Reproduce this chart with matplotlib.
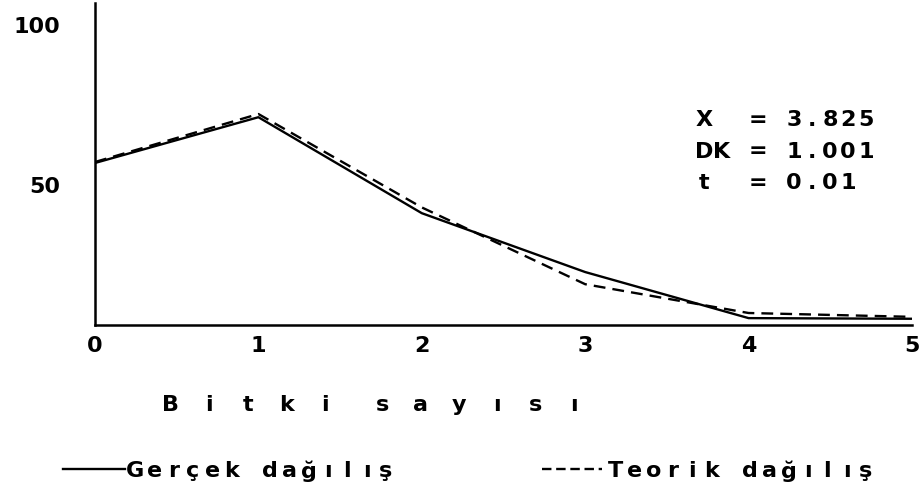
import matplotlib
matplotlib.use('Agg')
import matplotlib.pyplot as plt
from matplotlib.lines import Line2D

# Bitki sayısı dağılımı (gerçek ve teorik)
bitki_sayisi = [0, 1, 2, 3, 4, 5]
gercek = [56.9, 71.2, 41.2, 22.8, 8.4, 8.2]
teorik = [57.2, 72.2, 43.0, 19.0, 10.0, 8.8]
y_ticks = [50, 100]

stat_lines = ["X  = 3.825", "DK = 1.001", "t  = 0.01"]
xlabel_text = "B i t k i  s a y ı s ı"
legend_labels = ["Gerçek dağılış", "Teorik dağılış"]

W, H = 923, 497
FONT = dict(family='DejaVu Sans', weight='bold', size=16, color='black')


def spaced_text(fig, x, y, s, pitch):
    # daktilo gibi sabit aralıklı yazı (piksel koordinatları)
    for i, ch in enumerate(s):
        if ch != ' ':
            fig.text((x + i * pitch) / W, 1 - y / H, ch, ha='center', va='center', **FONT)


fig = plt.figure(figsize=(W / 100, H / 100), dpi=100)
ax = fig.add_axes([95 / W, 1 - 325 / H, (912 - 95) / W, (325 - 3) / H])

ax.plot(bitki_sayisi, gercek, color='black', lw=1.7)
ax.plot(bitki_sayisi, teorik, color='black', lw=1.7, dashes=(5, 3))

ax.set_xlim(0, 5)
ax.set_ylim(6.25, 106.9)
ax.set_xticks(bitki_sayisi)
ax.set_yticks(y_ticks)
ax.tick_params(axis='x', length=0, pad=8)
ax.tick_params(axis='y', length=0, pad=25)
for lab in ax.get_xticklabels() + ax.get_yticklabels():
    lab.set_fontfamily(FONT['family'])
    lab.set_fontweight(FONT['weight'])
    lab.set_fontsize(FONT['size'])

for side in ['top', 'right']:
    ax.spines[side].set_visible(False)
for side in ['left', 'bottom']:
    ax.spines[side].set_linewidth(1.8)

# istatistikler
for k, line in enumerate(stat_lines):
    spaced_text(fig, 704, 120 + k * 31.5, line, 18)

# eksen başlığı
spaced_text(fig, 171, 405, xlabel_text, 19.2)

# açıklama
fig.add_artist(Line2D([63 / W, 125 / W], [1 - 469 / H] * 2, color='black', lw=1.7))
spaced_text(fig, 135, 471, legend_labels[0], 19.3)
fig.add_artist(Line2D([542 / W, 602 / W], [1 - 469 / H] * 2, color='black', lw=1.7,
                      dashes=(4, 2)))
spaced_text(fig, 615, 471, legend_labels[1], 19.3)

fig.savefig('out.png', dpi=100)
